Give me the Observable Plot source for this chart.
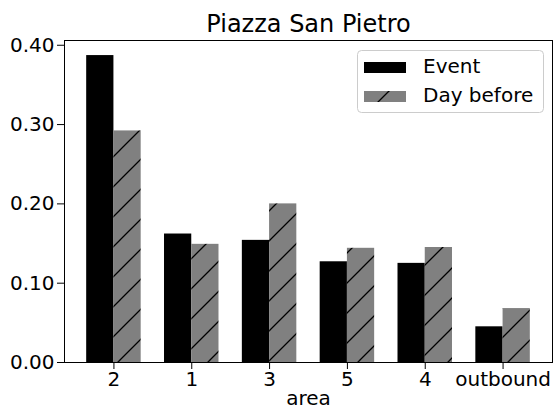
<!DOCTYPE html>
<html>
<head>
<meta charset="utf-8">
<script src="https://cdn.jsdelivr.net/npm/d3@7"></script>
<script src="https://cdn.jsdelivr.net/npm/@observablehq/plot@0.6"></script>
<style>
  html, body { margin: 0; padding: 0; background: #fff; }
  #chart { width: 553px; height: 409px; }
</style>
</head>
<body>
<div id="chart"></div>
<script>
// Share of presences per area, on the event day and on the day before
const areas = ["2", "1", "3", "5", "4", "outbound"];
const eventShare = [0.387, 0.162, 0.154, 0.127, 0.125, 0.045];
const dayBeforeShare = [0.292, 0.149, 0.200, 0.144, 0.145, 0.068];
const seriesNames = ["Event", "Day before"];
const yTicks = [0, 0.1, 0.2, 0.3, 0.4];

const barWidth = 0.35;
const eventRows = areas.map((area, i) => ({area, i, value: eventShare[i]}));
const dayBeforeRows = areas.map((area, i) => ({area, i, value: dayBeforeShare[i]}));

const chart = Plot.plot({
  width: 553,
  height: 409,
  marginLeft: 64,
  marginRight: 1,
  marginTop: 40,
  marginBottom: 47,
  style: {fontFamily: "'DejaVu Sans', sans-serif", fontSize: "20px", color: "black", background: "white", overflow: "visible"},
  x: {
    domain: [-0.635, areas.length - 1 + 0.635],
    ticks: areas.map((_, i) => i),
    tickFormat: i => areas[i],
    tickSize: 7,
    tickPadding: 2,
    label: null
  },
  y: {
    domain: [0, 0.406],
    ticks: yTicks,
    tickFormat: d3.format(".2f"),
    tickSize: 7,
    tickPadding: 3,
    label: null
  },
  marks: [
    Plot.rect(eventRows, {x1: d => d.i - barWidth, x2: d => d.i, y1: () => 0, y2: "value", fill: "black"}),
    Plot.rect(dayBeforeRows, {x1: d => d.i, x2: d => d.i + barWidth, y1: () => 0, y2: "value", fill: "url(#hatch)"}),
    Plot.frame({stroke: "black", strokeWidth: 1}),
    Plot.text(["Piazza San Pietro"], {frameAnchor: "top", dy: -26, fontSize: 24, fill: "black"}),
    Plot.text(["area"], {frameAnchor: "bottom", dy: 42, fontSize: 20, fill: "black"})
  ]
});

document.getElementById("chart").append(chart);

const svg = d3.select(chart);

// "/" hatch on a grey ground
const pattern = svg.insert("defs", ":first-child")
  .append("pattern")
  .attr("id", "hatch")
  .attr("patternUnits", "userSpaceOnUse")
  .attr("width", 30)
  .attr("height", 30);
pattern.append("rect").attr("width", 30).attr("height", 30).attr("fill", "#808080");
pattern.append("path")
  .attr("d", "M-3,33L33,-3M-3,3L3,-3M27,33L33,27")
  .attr("stroke", "black")
  .attr("stroke-width", 1.3)
  .attr("fill", "none");

// Legend box
const legend = svg.append("g")
  .attr("font-family", "'DejaVu Sans', sans-serif")
  .attr("font-size", 20)
  .attr("text-anchor", "start");
legend.append("rect")
  .attr("x", 357.5).attr("y", 50.5).attr("width", 186).attr("height", 62).attr("rx", 4)
  .attr("fill", "white").attr("fill-opacity", 0.8).attr("stroke", "#cccccc");
const swatchFills = ["black", "url(#hatch)"];
seriesNames.forEach((name, k) => {
  legend.append("rect")
    .attr("x", 364).attr("y", 62 + 29 * k).attr("width", 42).attr("height", 11)
    .attr("fill", swatchFills[k]);
  legend.append("text")
    .attr("x", 423).attr("y", 72.5 + 29.5 * k)
    .attr("text-anchor", "start")
    .attr("fill", "black")
    .text(name);
});
</script>
</body>
</html>
